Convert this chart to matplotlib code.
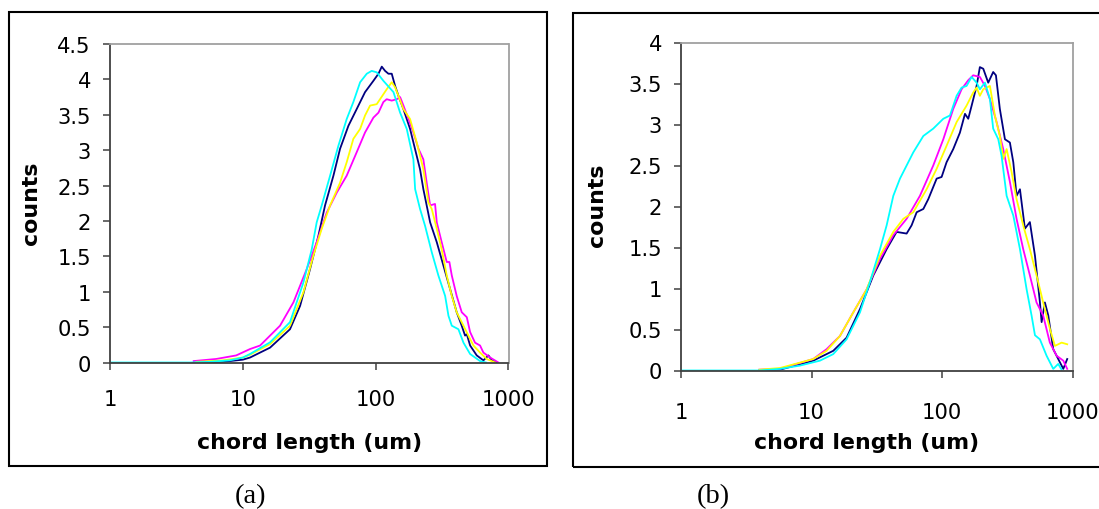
import numpy as np
import matplotlib
matplotlib.use("Agg")
import matplotlib.pyplot as plt
from matplotlib.patches import Rectangle

# ---------------- data (log10 of chord length in um, counts) ----------------
a_navy_log = [0.70, 0.85, 1.0, 1.054, 1.205, 1.355, 1.431, 1.506, 1.569, 1.619, 1.682, 1.732, 1.795, 1.857,
              1.920, 1.983, 2.021, 2.046, 2.071, 2.096, 2.121, 2.146, 2.171, 2.209, 2.259, 2.309, 2.334, 2.359,
              2.410, 2.460, 2.510, 2.560, 2.610, 2.648, 2.673, 2.686, 2.711, 2.761, 2.811, 2.849, 2.874, 2.912]
a_navy_val = [0.0, 0.01, 0.04, 0.07, 0.21, 0.47, 0.80, 1.32, 1.79, 2.22, 2.64, 3.02, 3.345, 3.58,
              3.82, 3.98, 4.08, 4.18, 4.12, 4.08, 4.08, 3.91, 3.77, 3.58, 3.30, 2.92, 2.73, 2.45,
              1.98, 1.70, 1.37, 1.04, 0.71, 0.52, 0.38, 0.40, 0.24, 0.10, 0.03, 0.10, 0.03, 0.0]

a_magenta_log = [0.63, 0.80, 0.95, 1.054, 1.130, 1.205, 1.280, 1.381, 1.481, 1.556, 1.632, 1.707, 1.782, 1.857,
                 1.920, 1.983, 2.021, 2.058, 2.083, 2.121, 2.159, 2.184, 2.209, 2.247, 2.284, 2.322, 2.359,
                 2.384, 2.410, 2.447, 2.460, 2.497, 2.535, 2.555, 2.573, 2.610, 2.648, 2.686, 2.711, 2.748,
                 2.786, 2.811, 2.862, 2.924]
a_magenta_val = [0.02, 0.05, 0.10, 0.19, 0.24, 0.38, 0.52, 0.85, 1.32, 1.70, 2.12, 2.40, 2.64, 2.97,
                 3.25, 3.46, 3.53, 3.68, 3.72, 3.70, 3.72, 3.75, 3.63, 3.44, 3.25, 3.02, 2.87,
                 2.54, 2.22, 2.24, 1.98, 1.70, 1.42, 1.42, 1.23, 0.94, 0.71, 0.64, 0.43, 0.28,
                 0.24, 0.14, 0.07, 0.0]

a_yellow_log = [0.65, 0.85, 1.0, 1.054, 1.205, 1.355, 1.456, 1.531, 1.594, 1.657, 1.732, 1.782, 1.832, 1.883,
                1.920, 1.958, 2.008, 2.058, 2.083, 2.121, 2.146, 2.171, 2.209, 2.259, 2.309, 2.359, 2.397,
                2.422, 2.460, 2.497, 2.535, 2.573, 2.610, 2.661, 2.698, 2.736, 2.786, 2.836, 2.899]
a_yellow_val = [0.01, 0.03, 0.07, 0.11, 0.26, 0.52, 0.99, 1.51, 1.89, 2.22, 2.54, 2.83, 3.16, 3.30,
                3.49, 3.63, 3.65, 3.79, 3.86, 3.96, 3.89, 3.77, 3.58, 3.44, 3.11, 2.73, 2.26,
                2.17, 1.89, 1.60, 1.23, 0.94, 0.71, 0.52, 0.38, 0.24, 0.14, 0.05, 0.0]

a_cyan_log = [0.0, 0.60, 0.75, 0.90, 1.0, 1.054, 1.205, 1.355, 1.456, 1.519, 1.556, 1.594, 1.657, 1.719,
              1.782, 1.832, 1.883, 1.933, 1.970, 2.008, 2.058, 2.134, 2.184, 2.234, 2.284, 2.297, 2.334,
              2.372, 2.422, 2.472, 2.523, 2.548, 2.573, 2.623, 2.661, 2.711, 2.786, 2.83]
a_cyan_val = [0.0, 0.0, 0.01, 0.03, 0.07, 0.12, 0.285, 0.57, 1.13, 1.60, 1.98, 2.22, 2.64, 3.06,
              3.44, 3.68, 3.96, 4.08, 4.12, 4.10, 3.98, 3.82, 3.53, 3.30, 2.87, 2.45, 2.17,
              1.93, 1.56, 1.23, 0.94, 0.66, 0.52, 0.47, 0.28, 0.12, 0.02, 0.0]

b_navy_log = [0.60, 0.758, 1.013, 1.166, 1.268, 1.371, 1.473, 1.575, 1.651, 1.728, 1.766, 1.805, 1.856, 1.894,
              1.958, 1.996, 2.034, 2.085, 2.136, 2.175, 2.200, 2.226, 2.264, 2.289, 2.315, 2.353, 2.391,
              2.412, 2.442, 2.481, 2.519, 2.545, 2.570, 2.596, 2.634, 2.672, 2.711, 2.749, 2.762, 2.787,
              2.813, 2.851, 2.902, 2.928, 2.958]
b_navy_val = [0.0, 0.01, 0.12, 0.24, 0.40, 0.75, 1.16, 1.48, 1.69, 1.67, 1.77, 1.93, 1.97, 2.09,
              2.34, 2.36, 2.54, 2.70, 2.90, 3.13, 3.07, 3.23, 3.47, 3.70, 3.68, 3.51, 3.64,
              3.60, 3.19, 2.82, 2.78, 2.54, 2.13, 2.21, 1.73, 1.81, 1.40, 0.83, 0.59, 0.83,
              0.67, 0.26, 0.10, 0.02, 0.14]

b_magenta_log = [0.60, 0.758, 1.013, 1.115, 1.217, 1.320, 1.422, 1.524, 1.626, 1.728, 1.830, 1.932, 2.009,
                 2.085, 2.149, 2.200, 2.238, 2.289, 2.328, 2.366, 2.417, 2.468, 2.519, 2.570, 2.621, 2.672,
                 2.723, 2.774, 2.825, 2.877, 2.928, 2.958]
b_magenta_val = [0.01, 0.02, 0.14, 0.26, 0.42, 0.71, 0.99, 1.36, 1.65, 1.85, 2.13, 2.50, 2.82,
                 3.19, 3.43, 3.54, 3.60, 3.58, 3.47, 3.31, 3.03, 2.70, 2.30, 1.85, 1.48, 1.16,
                 0.83, 0.67, 0.34, 0.18, 0.12, 0.02]

b_yellow_log = [0.60, 0.758, 1.013, 1.115, 1.217, 1.320, 1.422, 1.524, 1.626, 1.703, 1.779, 1.881, 1.958,
                2.034, 2.111, 2.187, 2.238, 2.264, 2.289, 2.315, 2.366, 2.404, 2.442, 2.468, 2.494, 2.532,
                2.570, 2.621, 2.672, 2.723, 2.774, 2.825, 2.864, 2.915, 2.958]
b_yellow_val = [0.01, 0.03, 0.14, 0.24, 0.42, 0.71, 0.99, 1.40, 1.69, 1.85, 1.93, 2.21, 2.46,
                2.74, 3.03, 3.23, 3.39, 3.45, 3.35, 3.43, 3.47, 3.11, 2.86, 2.58, 2.70, 2.42,
                2.09, 1.77, 1.48, 1.16, 0.83, 0.51, 0.30, 0.34, 0.32]

b_cyan_log = [0.0, 0.60, 0.758, 0.911, 1.064, 1.166, 1.268, 1.371, 1.447, 1.524, 1.575, 1.626, 1.677, 1.728,
              1.779, 1.856, 1.932, 2.009, 2.060, 2.111, 2.149, 2.187, 2.226, 2.264, 2.289, 2.328, 2.366,
              2.391, 2.430, 2.455, 2.494, 2.545, 2.596, 2.647, 2.685, 2.711, 2.749, 2.800, 2.851, 2.889, 2.915]
b_cyan_val = [0.0, 0.0, 0.02, 0.06, 0.12, 0.20, 0.38, 0.71, 1.08, 1.48, 1.77, 2.13, 2.34, 2.50,
              2.66, 2.86, 2.95, 3.07, 3.11, 3.35, 3.45, 3.47, 3.58, 3.51, 3.43, 3.51, 3.31,
              2.95, 2.82, 2.62, 2.13, 1.89, 1.48, 0.99, 0.67, 0.43, 0.38, 0.18, 0.02, 0.08, 0.01]

x_ticks = [1, 10, 100, 1000]
x_tick_labels = ["1", "10", "100", "1000"]
a_y_ticks = [0, 0.5, 1, 1.5, 2, 2.5, 3, 3.5, 4, 4.5]
a_y_labels = ["0", "0.5", "1", "1.5", "2", "2.5", "3", "3.5", "4", "4.5"]
b_y_ticks = [0, 0.5, 1, 1.5, 2, 2.5, 3, 3.5, 4]
b_y_labels = ["0", "0.5", "1", "1.5", "2", "2.5", "3", "3.5", "4"]
x_label = "chord length (um)"
y_label = "counts"
panel_labels = ["(a)", "(b)"]

colors = {"navy": "#000080", "magenta": "#FF00FF", "yellow": "#FFFF00", "cyan": "#00FFFF"}

# ---------------- figure ----------------
W, H = 1099, 510
fig = plt.figure(figsize=(W / 100, H / 100), dpi=100)
fig.patch.set_facecolor("white")

def px_rect(l, t, r, b):
    return [l / W, 1 - b / H, (r - l) / W, (b - t) / H]

tick_font = dict(family="DejaVu Sans", size=15.2)
label_font = dict(family="DejaVu Sans", size=15.8, weight="bold")

def style_axes(ax, ymax, yticks, ylabels, xpad, ylab_xy, xlab_xy):
    ax.set_xscale("log")
    ax.set_xlim(1, 1000)
    ax.set_ylim(0, ymax)
    ax.set_xticks(x_ticks)
    ax.set_xticklabels(x_tick_labels, **tick_font)
    ax.xaxis.set_minor_locator(matplotlib.ticker.NullLocator())
    ax.set_yticks(yticks)
    ax.set_yticklabels(ylabels, **tick_font)
    for s in ("left", "bottom"):
        ax.spines[s].set_color("#404040")
        ax.spines[s].set_linewidth(1.3)
    for s in ("top", "right"):
        ax.spines[s].set_color("#a0a0a0")
        ax.spines[s].set_linewidth(1.3)
    ax.tick_params(axis="both", direction="out", length=4.8, width=1.1, color="#404040")
    ax.tick_params(axis="x", pad=xpad)
    ax.tick_params(axis="y", pad=9)
    ax.set_xlabel(x_label, va="center", **label_font)
    ax.xaxis.set_label_coords(*xlab_xy)
    ax.set_ylabel(y_label, va="center", ha="center", **label_font)
    ax.yaxis.set_label_coords(*ylab_xy)

def draw(ax, series):
    for lg, val, c in series:
        ax.plot(10 ** np.asarray(lg), val, color=colors[c], lw=1.3, solid_joinstyle="round")

# panel (a)
axa = fig.add_axes(px_rect(110, 45, 508.5, 363.5))
draw(axa, [(a_navy_log, a_navy_val, "navy"), (a_magenta_log, a_magenta_val, "magenta"),
           (a_yellow_log, a_yellow_val, "yellow"), (a_cyan_log, a_cyan_val, "cyan")])
style_axes(axa, 4.5, a_y_ticks, a_y_labels, 14, (-0.197, 0.504), (0.5, -0.25))

# panel (b)
axb = fig.add_axes(px_rect(681, 43.5, 1072.7, 371.5))
draw(axb, [(b_navy_log, b_navy_val, "navy"), (b_magenta_log, b_magenta_val, "magenta"),
           (b_yellow_log, b_yellow_val, "yellow"), (b_cyan_log, b_cyan_val, "cyan")])
style_axes(axb, 4.0, b_y_ticks, b_y_labels, 18, (-0.2145, 0.508), (0.475, -0.218))

# outer frames
for (l, t, r, b) in [(8.5, 12.7, 547, 467), (573.3, 14, 1115, 468)]:
    fig.add_artist(Rectangle((l / W, 1 - b / H), (r - l) / W, (b - t) / H,
                             transform=fig.transFigure, fill=False, lw=1.5, ec="black"))

# panel captions
fig.text(250 / W, 1 - 497 / H, panel_labels[0], family="Liberation Serif", size=20.5,
         ha="center", va="center")
fig.text(713 / W, 1 - 497 / H, panel_labels[1], family="Liberation Serif", size=20.5,
         ha="center", va="center")

fig.savefig("out.png", dpi=100, facecolor="white")
